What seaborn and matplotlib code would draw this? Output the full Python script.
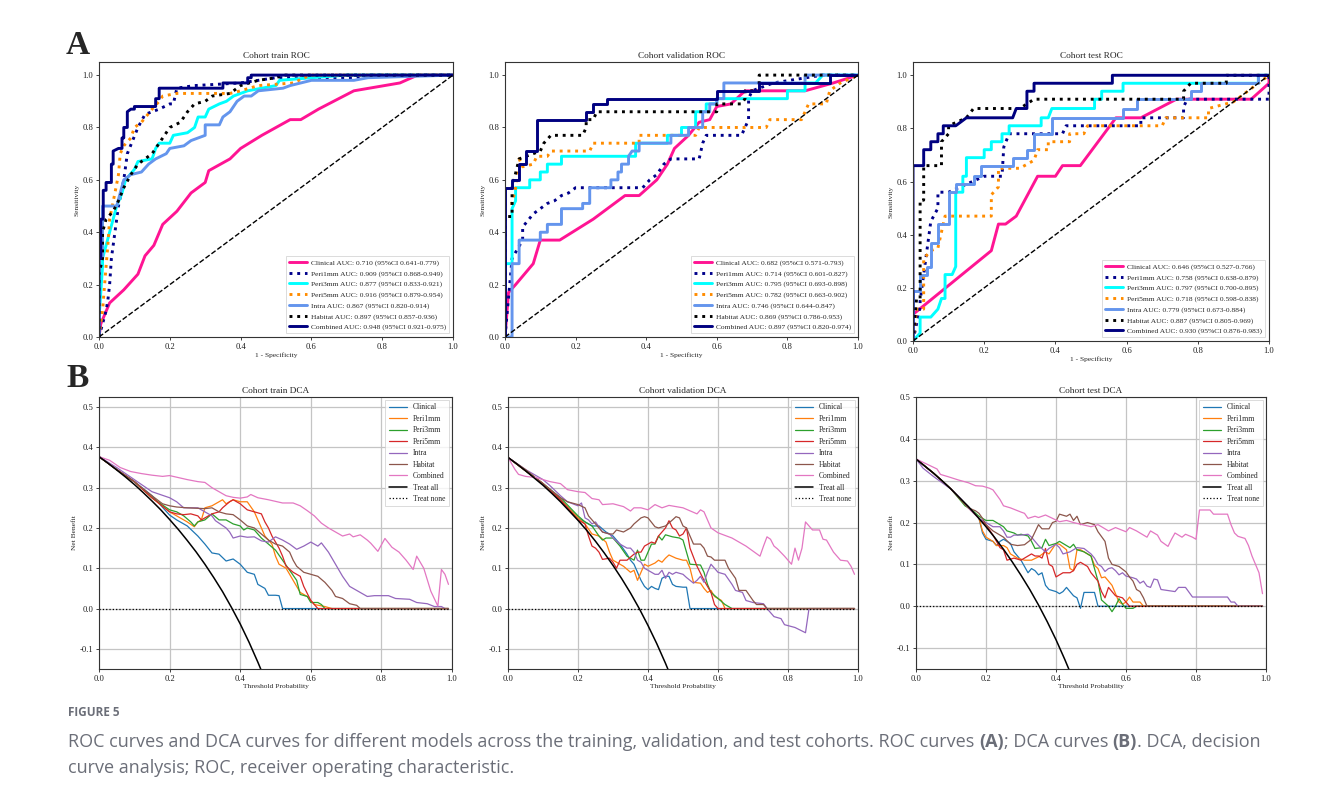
import numpy as np
import pandas as pd
import matplotlib
matplotlib.use("Agg")
import matplotlib.pyplot as plt
import seaborn as sns

# ---------------- DATA ----------------
models = ["Clinical", "Peri1mm", "Peri3mm", "Peri5mm", "Intra", "Habitat", "Combined"]
diag_x = [0, 1]
diag_y = [0, 1]

# ROC train
roc_train_clinical_fpr = [0,0.005,0.03,0.07,0.11,0.13,0.155,0.18,0.22,0.26,0.30,0.31,0.37,0.40,0.46,0.54,0.57,0.62,0.72,0.85,0.90,1.0]
roc_train_clinical_tpr = [0,0.05,0.13,0.18,0.24,0.31,0.35,0.43,0.48,0.55,0.59,0.635,0.68,0.72,0.77,0.83,0.83,0.87,0.94,0.97,1.0,1.0]
roc_train_peri1_fpr = [0,0.01,0.02,0.025,0.03,0.035,0.045,0.055,0.07,0.08,0.11,0.13,0.17,0.2,0.21,0.22,0.27,0.4,0.5,0.72,0.76,1.0]
roc_train_peri1_tpr = [0,0.05,0.1,0.14,0.2,0.3,0.4,0.5,0.6,0.7,0.8,0.85,0.87,0.89,0.89,0.95,0.96,0.97,0.99,0.99,1.0,1.0]
roc_train_peri3_fpr = [0,0,0.01,0.01,0.02,0.03,0.04,0.05,0.065,0.075,0.1,0.11,0.15,0.16,0.17,0.2,0.21,0.25,0.27,0.28,0.3,0.31,0.34,0.36,0.38,0.4,0.42,0.5,0.51,0.6,0.7,1.0]
roc_train_peri3_tpr = [0,0.07,0.27,0.3,0.35,0.4,0.45,0.5,0.55,0.6,0.64,0.67,0.68,0.72,0.74,0.74,0.77,0.78,0.8,0.84,0.84,0.87,0.89,0.9,0.92,0.93,0.94,0.96,0.98,0.99,1.0,1.0]
roc_train_peri5_fpr = [0,0.01,0.02,0.025,0.03,0.045,0.055,0.06,0.07,0.09,0.1,0.12,0.15,0.17,0.18,0.22,0.37,0.4,0.45,0.55,0.58,0.6,1.0]
roc_train_peri5_tpr = [0,0.1,0.27,0.35,0.45,0.55,0.62,0.7,0.73,0.76,0.8,0.82,0.87,0.9,0.92,0.93,0.93,0.94,0.96,0.97,0.99,1.0,1.0]
roc_train_intra_fpr = [0,0,0.01,0.01,0.05,0.06,0.07,0.09,0.12,0.14,0.16,0.19,0.2,0.24,0.26,0.3,0.3,0.34,0.35,0.37,0.39,0.41,0.43,0.45,0.52,0.54,0.6,0.72,0.76,1.0]
roc_train_intra_tpr = [0,0.3,0.3,0.5,0.5,0.55,0.6,0.62,0.63,0.66,0.68,0.7,0.72,0.73,0.75,0.77,0.81,0.81,0.84,0.86,0.9,0.92,0.92,0.94,0.95,0.96,0.98,0.98,0.99,1.0]
roc_train_habitat_fpr = [0,0,0.01,0.01,0.02,0.04,0.055,0.07,0.09,0.11,0.13,0.15,0.18,0.2,0.23,0.25,0.27,0.3,0.32,0.37,0.4,0.45,0.5,0.52,1.0]
roc_train_habitat_tpr = [0,0.24,0.3,0.4,0.45,0.48,0.52,0.57,0.62,0.66,0.68,0.7,0.76,0.8,0.82,0.86,0.89,0.9,0.92,0.93,0.96,0.98,0.99,1.0,1.0]
roc_train_combined_fpr = [0,0,0.005,0.005,0.012,0.012,0.02,0.02,0.035,0.035,0.04,0.04,0.055,0.065,0.065,0.07,0.07,0.08,0.08,0.09,0.1,0.1,0.16,0.16,0.17,0.17,0.35,0.35,0.42,0.42,0.43,0.43,1.0]
roc_train_combined_tpr = [0,0.30,0.30,0.45,0.45,0.56,0.56,0.59,0.59,0.66,0.66,0.71,0.72,0.72,0.76,0.76,0.80,0.80,0.86,0.87,0.87,0.88,0.88,0.91,0.91,0.95,0.95,0.97,0.97,0.99,0.99,1.0,1.0]

# ROC validation
roc_val_clinical_fpr = [0,0.01,0.03,0.08,0.1,0.155,0.25,0.34,0.38,0.43,0.46,0.48,0.52,0.55,0.58,0.6,0.64,0.68,0.85,0.93,1.0]
roc_val_clinical_tpr = [0,0.17,0.2,0.28,0.37,0.37,0.45,0.54,0.54,0.6,0.66,0.72,0.77,0.82,0.83,0.88,0.89,0.94,0.94,0.97,1.0]
roc_val_peri1_fpr = [0,0.02,0.05,0.05,0.08,0.1,0.12,0.14,0.16,0.18,0.2,0.39,0.41,0.43,0.45,0.47,0.55,0.56,0.57,0.67,0.68,0.69,0.69,0.7,0.76,0.9,1.0]
roc_val_peri1_tpr = [0,0.3,0.37,0.42,0.47,0.49,0.51,0.52,0.54,0.55,0.57,0.57,0.6,0.62,0.66,0.68,0.68,0.74,0.77,0.77,0.8,0.83,0.91,0.94,0.97,1.0,1.0]
roc_val_peri3_fpr = [0,0,0.02,0.02,0.03,0.03,0.07,0.07,0.1,0.1,0.12,0.12,0.16,0.16,0.37,0.37,0.46,0.46,0.5,0.5,0.54,0.54,0.57,0.57,0.6,0.6,0.8,0.8,0.85,0.85,0.88,0.9,1.0]
roc_val_peri3_tpr = [0,0.28,0.28,0.49,0.52,0.57,0.57,0.6,0.6,0.63,0.63,0.66,0.66,0.69,0.69,0.74,0.74,0.77,0.77,0.8,0.8,0.86,0.86,0.89,0.89,0.91,0.91,0.94,0.94,0.97,0.97,1.0,1.0]
roc_val_peri5_fpr = [0,0,0.02,0.03,0.04,0.05,0.08,0.09,0.12,0.13,0.24,0.25,0.38,0.38,0.54,0.55,0.74,0.75,0.84,0.85,0.86,0.91,0.92,0.95,1.0]
roc_val_peri5_tpr = [0,0.51,0.51,0.57,0.68,0.65,0.66,0.69,0.69,0.71,0.71,0.74,0.74,0.77,0.77,0.8,0.8,0.83,0.83,0.86,0.89,0.89,0.94,0.97,1.0]
roc_val_intra_fpr = [0,0.02,0.02,0.04,0.04,0.1,0.1,0.12,0.12,0.16,0.16,0.22,0.22,0.24,0.24,0.3,0.3,0.32,0.32,0.33,0.33,0.35,0.35,0.36,0.38,0.38,0.47,0.47,0.52,0.52,0.56,0.56,0.58,0.58,0.6,0.6,0.62,0.62,0.85,0.85,1.0]
roc_val_intra_tpr = [0,0,0.28,0.28,0.37,0.37,0.4,0.4,0.43,0.43,0.49,0.49,0.51,0.51,0.57,0.57,0.6,0.6,0.63,0.63,0.66,0.66,0.69,0.71,0.71,0.74,0.74,0.77,0.77,0.8,0.8,0.86,0.86,0.89,0.89,0.91,0.91,0.97,0.97,1.0,1.0]
roc_val_habitat_fpr = [0,0,0.02,0.02,0.04,0.06,0.1,0.11,0.13,0.22,0.23,0.23,0.25,0.26,0.6,0.6,0.67,0.68,0.68,0.72,0.72,1.0]
roc_val_habitat_tpr = [0,0.46,0.46,0.57,0.68,0.69,0.71,0.74,0.77,0.77,0.8,0.83,0.83,0.86,0.86,0.89,0.89,0.91,0.94,0.94,1.0,1.0]
roc_val_combined_fpr = [0,0,0.02,0.02,0.04,0.04,0.06,0.06,0.09,0.09,0.23,0.23,0.25,0.25,0.29,0.29,0.6,0.6,0.72,0.72,0.92,0.92,1.0]
roc_val_combined_tpr = [0,0.57,0.57,0.6,0.6,0.66,0.66,0.71,0.71,0.83,0.83,0.86,0.86,0.89,0.89,0.91,0.91,0.94,0.94,0.97,0.97,1.0,1.0]

# ROC test
roc_test_clinical_fpr = [0,0,0.22,0.24,0.26,0.29,0.35,0.4,0.42,0.47,0.57,0.64,0.74,0.95,1.0,1.0]
roc_test_clinical_tpr = [0,0.1,0.34,0.44,0.44,0.47,0.62,0.62,0.66,0.66,0.84,0.84,0.91,0.91,0.97,1.0]
roc_test_peri1_fpr = [0,0.02,0.02,0.05,0.07,0.07,0.1,0.2,0.25,0.255,0.27,0.42,0.43,0.64,0.64,0.76,0.76,0.77,1.0,1.0]
roc_test_peri1_tpr = [0,0.13,0.15,0.45,0.5,0.56,0.56,0.62,0.62,0.73,0.78,0.78,0.81,0.81,0.84,0.84,0.88,0.91,0.91,1.0]
roc_test_peri3_fpr = [0,0.02,0.02,0.05,0.07,0.08,0.09,0.09,0.11,0.12,0.12,0.14,0.14,0.15,0.15,0.2,0.2,0.22,0.22,0.25,0.25,0.27,0.27,0.36,0.36,0.38,0.39,0.51,0.51,0.53,0.53,0.59,0.59,0.97,0.97,1.0]
roc_test_peri3_tpr = [0,0.03,0.09,0.09,0.12,0.16,0.16,0.25,0.25,0.28,0.56,0.56,0.62,0.62,0.69,0.69,0.72,0.72,0.75,0.75,0.78,0.78,0.81,0.81,0.84,0.84,0.875,0.875,0.91,0.91,0.94,0.94,0.97,0.97,1.0,1.0]
roc_test_peri5_fpr = [0,0.01,0.03,0.03,0.05,0.07,0.08,0.09,0.22,0.22,0.24,0.24,0.3,0.34,0.35,0.38,0.38,0.44,0.44,0.48,0.49,0.7,0.71,0.83,0.83,0.9,0.97,1.0]
roc_test_peri5_tpr = [0,0.12,0.12,0.31,0.34,0.35,0.41,0.47,0.47,0.55,0.58,0.65,0.65,0.68,0.72,0.72,0.75,0.75,0.78,0.78,0.81,0.81,0.84,0.84,0.875,0.9,0.97,1.0]
roc_test_intra_fpr = [0,0,0.02,0.02,0.04,0.04,0.05,0.05,0.07,0.07,0.1,0.1,0.12,0.12,0.17,0.17,0.19,0.19,0.28,0.28,0.32,0.32,0.34,0.34,0.39,0.39,0.59,0.59,0.63,0.63,0.78,0.78,0.81,0.81,0.97,0.97,1.0]
roc_test_intra_tpr = [0,0.19,0.19,0.25,0.25,0.28,0.28,0.37,0.37,0.44,0.44,0.56,0.56,0.59,0.59,0.62,0.62,0.66,0.66,0.69,0.69,0.72,0.72,0.78,0.78,0.84,0.84,0.875,0.875,0.91,0.91,0.94,0.94,0.97,0.97,1.0,1.0]
roc_test_habitat_fpr = [0,0.01,0.02,0.02,0.03,0.03,0.08,0.08,0.1,0.1,0.15,0.17,0.3,0.34,0.76,0.76,0.78,0.88,0.88,1.0]
roc_test_habitat_tpr = [0,0.16,0.16,0.53,0.53,0.66,0.66,0.75,0.78,0.81,0.84,0.875,0.875,0.91,0.91,0.94,0.97,0.97,1.0,1.0]
roc_test_combined_fpr = [0,0,0.03,0.03,0.05,0.05,0.07,0.07,0.085,0.085,0.12,0.15,0.28,0.29,0.32,0.32,0.34,0.34,0.56,0.56,1.0]
roc_test_combined_tpr = [0,0.66,0.66,0.72,0.72,0.75,0.75,0.78,0.78,0.81,0.81,0.84,0.84,0.875,0.875,0.94,0.94,0.97,0.97,1.0,1.0]

# AUC values for legends
train_auc = [0.710, 0.909, 0.877, 0.916, 0.867, 0.897, 0.948]
train_ci_lo = [0.641, 0.868, 0.833, 0.879, 0.820, 0.857, 0.921]
train_ci_hi = [0.779, 0.949, 0.921, 0.954, 0.914, 0.936, 0.975]
val_auc = [0.682, 0.714, 0.795, 0.782, 0.746, 0.869, 0.897]
val_ci_lo = [0.571, 0.601, 0.693, 0.663, 0.644, 0.786, 0.820]
val_ci_hi = [0.793, 0.827, 0.898, 0.902, 0.847, 0.953, 0.974]
test_auc = [0.646, 0.758, 0.797, 0.718, 0.779, 0.887, 0.930]
test_ci_lo = [0.527, 0.638, 0.700, 0.598, 0.673, 0.805, 0.876]
test_ci_hi = [0.766, 0.879, 0.895, 0.838, 0.884, 0.969, 0.983]

# DCA train
dca_train_clinical_t = [0,0.05,0.1,0.15,0.2,0.22,0.25,0.28,0.3,0.32,0.34,0.36,0.38,0.4,0.42,0.44,0.45,0.47,0.48,0.5,0.51,0.52,0.99]
dca_train_clinical_nb = [0.377,0.345,0.315,0.28,0.232,0.22,0.205,0.18,0.16,0.138,0.135,0.118,0.123,0.11,0.09,0.085,0.06,0.05,0.033,0.033,0.032,0.0,0.0]
dca_train_peri1_t = [0,0.05,0.1,0.15,0.2,0.25,0.27,0.28,0.29,0.3,0.32,0.35,0.36,0.38,0.4,0.42,0.44,0.45,0.47,0.49,0.5,0.51,0.53,0.55,0.57,0.59,0.61,0.64,0.66,0.99]
dca_train_peri1_nb = [0.377,0.345,0.315,0.275,0.24,0.215,0.203,0.215,0.22,0.25,0.255,0.27,0.26,0.27,0.265,0.265,0.24,0.22,0.18,0.16,0.13,0.11,0.1,0.07,0.04,0.03,0.01,0.005,0.0,0.0]
dca_train_peri3_t = [0,0.05,0.1,0.15,0.2,0.22,0.24,0.26,0.27,0.28,0.3,0.32,0.34,0.36,0.38,0.4,0.41,0.42,0.44,0.46,0.48,0.5,0.52,0.54,0.56,0.57,0.59,0.6,0.62,0.63,0.64,0.99]
dca_train_peri3_nb = [0.377,0.345,0.315,0.275,0.245,0.24,0.23,0.215,0.205,0.215,0.22,0.235,0.22,0.22,0.21,0.205,0.195,0.2,0.195,0.175,0.16,0.145,0.12,0.095,0.07,0.035,0.03,0.015,0.015,0.01,0.0,0.0]
dca_train_peri5_t = [0,0.05,0.1,0.15,0.2,0.22,0.24,0.26,0.28,0.29,0.3,0.32,0.34,0.35,0.37,0.38,0.4,0.42,0.44,0.46,0.47,0.48,0.49,0.5,0.51,0.52,0.53,0.55,0.57,0.58,0.6,0.62,0.99]
dca_train_peri5_nb = [0.377,0.345,0.315,0.275,0.24,0.235,0.233,0.235,0.23,0.22,0.225,0.235,0.24,0.25,0.265,0.27,0.26,0.245,0.24,0.235,0.215,0.2,0.18,0.165,0.15,0.13,0.105,0.09,0.08,0.055,0.02,0.0,0.0]
dca_train_intra_t = [0,0.05,0.1,0.15,0.2,0.22,0.24,0.28,0.3,0.32,0.33,0.36,0.37,0.38,0.4,0.42,0.44,0.46,0.48,0.5,0.52,0.54,0.56,0.58,0.6,0.62,0.63,0.65,0.67,0.69,0.71,0.73,0.74,0.76,0.78,0.82,0.84,0.88,0.9,0.93,0.95,0.97,0.98,0.99]
dca_train_intra_nb = [0.377,0.35,0.32,0.29,0.275,0.265,0.25,0.25,0.24,0.23,0.218,0.2,0.19,0.175,0.18,0.177,0.178,0.168,0.165,0.178,0.17,0.16,0.147,0.155,0.165,0.155,0.163,0.14,0.11,0.08,0.055,0.045,0.04,0.03,0.032,0.032,0.025,0.023,0.015,0.012,0.005,0.005,0.0,0.0]
dca_train_habitat_t = [0,0.05,0.1,0.15,0.18,0.2,0.22,0.25,0.3,0.32,0.34,0.36,0.38,0.4,0.42,0.44,0.46,0.48,0.5,0.52,0.54,0.55,0.56,0.58,0.6,0.62,0.64,0.66,0.67,0.69,0.71,0.73,0.74,0.99]
dca_train_habitat_nb = [0.377,0.345,0.315,0.28,0.26,0.255,0.252,0.25,0.248,0.25,0.24,0.235,0.233,0.22,0.205,0.2,0.185,0.17,0.16,0.155,0.14,0.12,0.105,0.09,0.085,0.08,0.065,0.045,0.03,0.025,0.012,0.008,0.0,0.0]
dca_train_combined_t = [0,0.03,0.06,0.09,0.12,0.15,0.18,0.2,0.22,0.25,0.28,0.3,0.32,0.34,0.36,0.38,0.4,0.42,0.43,0.45,0.48,0.5,0.52,0.55,0.57,0.59,0.61,0.63,0.65,0.67,0.69,0.71,0.72,0.74,0.76,0.77,0.79,0.81,0.83,0.85,0.87,0.89,0.9,0.92,0.94,0.96,0.97,0.98,0.99]
dca_train_combined_nb = [0.377,0.368,0.35,0.34,0.335,0.331,0.328,0.33,0.326,0.32,0.315,0.313,0.3,0.29,0.28,0.276,0.274,0.277,0.283,0.275,0.27,0.266,0.262,0.262,0.255,0.243,0.23,0.212,0.2,0.19,0.18,0.185,0.178,0.183,0.17,0.162,0.142,0.174,0.152,0.14,0.12,0.097,0.13,0.1,0.043,0.006,0.097,0.085,0.06]
dca_train_all_t = [0,0.025,0.05,0.075,0.1,0.125,0.15,0.175,0.2,0.225,0.25,0.275,0.3,0.325,0.35,0.375,0.4,0.425,0.45,0.46]
dca_train_all_nb = [0.377,0.361,0.344,0.3265,0.308,0.288,0.267,0.245,0.221,0.196,0.169,0.1407,0.110,0.077,0.042,0.0032,-0.038,-0.0835,-0.133,-0.154]

# DCA validation
dca_val_clinical_t = [0,0.05,0.1,0.15,0.2,0.22,0.24,0.26,0.28,0.3,0.32,0.34,0.35,0.36,0.37,0.38,0.39,0.4,0.41,0.42,0.43,0.44,0.45,0.46,0.47,0.48,0.5,0.51,0.52,0.99]
dca_val_clinical_nb = [0.375,0.342,0.31,0.27,0.225,0.215,0.205,0.205,0.19,0.18,0.16,0.135,0.12,0.11,0.09,0.07,0.055,0.047,0.055,0.05,0.047,0.075,0.08,0.08,0.06,0.055,0.053,0.053,0.0,0.0]
dca_val_peri1_t = [0,0.05,0.1,0.15,0.2,0.22,0.24,0.26,0.28,0.29,0.3,0.31,0.33,0.35,0.36,0.37,0.38,0.39,0.4,0.42,0.43,0.44,0.45,0.46,0.48,0.5,0.51,0.52,0.53,0.55,0.56,0.57,0.58,0.59,0.6,0.61,0.62,0.99]
dca_val_peri1_nb = [0.375,0.342,0.31,0.27,0.225,0.21,0.185,0.18,0.165,0.14,0.12,0.115,0.105,0.09,0.095,0.07,0.09,0.11,0.105,0.113,0.12,0.115,0.125,0.133,0.125,0.12,0.12,0.1,0.065,0.063,0.05,0.04,0.045,0.03,0.025,0.02,0.0,0.0]
dca_val_peri3_t = [0,0.05,0.1,0.15,0.2,0.22,0.24,0.26,0.27,0.28,0.3,0.32,0.34,0.36,0.37,0.38,0.39,0.4,0.41,0.42,0.43,0.44,0.45,0.47,0.49,0.5,0.51,0.52,0.55,0.56,0.57,0.58,0.6,0.62,0.64,0.99]
dca_val_peri3_nb = [0.375,0.342,0.31,0.275,0.23,0.215,0.205,0.18,0.17,0.175,0.175,0.155,0.13,0.12,0.145,0.12,0.12,0.14,0.16,0.16,0.18,0.17,0.183,0.178,0.175,0.17,0.14,0.11,0.108,0.09,0.06,0.04,0.025,0.01,0.0,0.0]
dca_val_peri5_t = [0,0.05,0.1,0.15,0.2,0.22,0.23,0.24,0.25,0.26,0.27,0.29,0.3,0.31,0.32,0.34,0.36,0.37,0.38,0.39,0.4,0.41,0.42,0.43,0.45,0.46,0.47,0.48,0.49,0.5,0.51,0.52,0.54,0.56,0.58,0.59,0.6,0.99]
dca_val_peri5_nb = [0.375,0.342,0.31,0.27,0.22,0.21,0.18,0.155,0.15,0.14,0.122,0.125,0.115,0.1,0.12,0.12,0.135,0.14,0.14,0.155,0.16,0.165,0.162,0.18,0.2,0.218,0.2,0.195,0.18,0.185,0.2,0.15,0.105,0.07,0.04,0.01,0.0,0.0]
dca_val_intra_t = [0,0.05,0.1,0.12,0.15,0.17,0.2,0.21,0.22,0.23,0.24,0.25,0.27,0.29,0.3,0.32,0.34,0.35,0.36,0.37,0.38,0.39,0.4,0.42,0.43,0.44,0.45,0.46,0.47,0.48,0.5,0.51,0.53,0.54,0.55,0.56,0.57,0.58,0.6,0.62,0.64,0.65,0.67,0.68,0.7,0.73,0.74,0.76,0.78,0.79,0.82,0.85,0.86,0.99]
dca_val_intra_nb = [0.375,0.345,0.32,0.305,0.28,0.265,0.255,0.262,0.225,0.22,0.21,0.215,0.19,0.185,0.175,0.16,0.15,0.15,0.14,0.12,0.115,0.1,0.095,0.085,0.085,0.095,0.075,0.09,0.085,0.09,0.085,0.077,0.063,0.07,0.08,0.065,0.09,0.11,0.09,0.085,0.06,0.045,0.04,0.02,0.015,0.012,0.0,-0.02,-0.025,-0.04,-0.047,-0.06,0.0,0.0]
dca_val_habitat_t = [0,0.05,0.1,0.15,0.17,0.2,0.22,0.23,0.25,0.27,0.29,0.3,0.31,0.33,0.35,0.36,0.38,0.39,0.4,0.42,0.43,0.45,0.47,0.48,0.49,0.5,0.51,0.52,0.53,0.55,0.56,0.57,0.58,0.59,0.62,0.63,0.65,0.66,0.68,0.7,0.71,0.73,0.74,0.99]
dca_val_habitat_nb = [0.375,0.345,0.31,0.275,0.265,0.258,0.25,0.23,0.21,0.19,0.185,0.185,0.195,0.19,0.2,0.21,0.225,0.228,0.225,0.203,0.2,0.205,0.22,0.228,0.225,0.205,0.2,0.18,0.16,0.16,0.15,0.13,0.128,0.12,0.12,0.1,0.075,0.045,0.045,0.02,0.01,0.01,0.0,0.0]
dca_val_combined_t = [0,0.02,0.03,0.05,0.08,0.1,0.12,0.15,0.17,0.2,0.22,0.24,0.26,0.27,0.3,0.33,0.35,0.36,0.38,0.4,0.42,0.44,0.46,0.5,0.54,0.55,0.56,0.58,0.6,0.64,0.68,0.72,0.73,0.74,0.75,0.76,0.77,0.79,0.81,0.82,0.83,0.84,0.85,0.87,0.89,0.9,0.91,0.93,0.95,0.97,0.98,0.99]
dca_val_combined_nb = [0.375,0.345,0.333,0.328,0.325,0.32,0.315,0.31,0.295,0.29,0.288,0.273,0.27,0.258,0.26,0.253,0.242,0.25,0.25,0.245,0.258,0.25,0.256,0.25,0.235,0.245,0.24,0.2,0.188,0.175,0.155,0.13,0.155,0.178,0.172,0.155,0.148,0.13,0.11,0.15,0.12,0.15,0.215,0.195,0.195,0.172,0.17,0.14,0.12,0.118,0.105,0.085]
dca_val_all_t = [0,0.025,0.05,0.075,0.1,0.125,0.15,0.175,0.2,0.225,0.25,0.275,0.3,0.325,0.35,0.375,0.4,0.425,0.45,0.46]
dca_val_all_nb = [0.375,0.359,0.342,0.324,0.306,0.286,0.265,0.242,0.219,0.194,0.167,0.138,0.107,0.074,0.0385,0.0,-0.042,-0.087,-0.136,-0.157]

# DCA test
dca_test_clinical_t = [0,0.05,0.1,0.15,0.18,0.19,0.2,0.22,0.23,0.24,0.25,0.27,0.28,0.3,0.32,0.33,0.34,0.35,0.36,0.37,0.38,0.4,0.41,0.42,0.43,0.45,0.46,0.47,0.48,0.51,0.52,0.99]
dca_test_clinical_nb = [0.352,0.318,0.28,0.235,0.21,0.175,0.16,0.155,0.145,0.155,0.16,0.15,0.13,0.11,0.08,0.09,0.085,0.075,0.08,0.05,0.04,0.035,0.03,0.035,0.045,0.025,0.02,-0.005,0.033,0.033,0.0,0.0]
dca_test_peri1_t = [0,0.05,0.1,0.15,0.18,0.19,0.2,0.22,0.23,0.25,0.26,0.27,0.29,0.31,0.33,0.35,0.37,0.38,0.4,0.41,0.43,0.44,0.45,0.46,0.47,0.48,0.5,0.51,0.52,0.53,0.54,0.55,0.56,0.57,0.58,0.59,0.6,0.61,0.62,0.64,0.65,0.99]
dca_test_peri1_nb = [0.352,0.318,0.28,0.235,0.21,0.18,0.165,0.155,0.145,0.145,0.14,0.125,0.115,0.11,0.11,0.118,0.13,0.125,0.15,0.148,0.135,0.09,0.085,0.135,0.135,0.13,0.12,0.098,0.09,0.068,0.07,0.06,0.05,0.03,0.01,0.005,0.01,0.022,0.01,0.01,0.0,0.0]
dca_test_peri3_t = [0,0.05,0.1,0.14,0.16,0.18,0.2,0.22,0.24,0.25,0.26,0.28,0.29,0.3,0.32,0.33,0.34,0.36,0.37,0.38,0.4,0.41,0.42,0.44,0.45,0.46,0.48,0.5,0.51,0.52,0.53,0.55,0.56,0.57,0.58,0.59,0.6,0.62,0.63,0.99]
dca_test_peri3_nb = [0.352,0.318,0.28,0.24,0.23,0.215,0.205,0.205,0.195,0.19,0.18,0.175,0.17,0.172,0.168,0.155,0.138,0.14,0.16,0.145,0.15,0.155,0.15,0.14,0.148,0.135,0.13,0.12,0.09,0.06,0.015,0.0,-0.013,0.0,0.018,0.005,-0.005,-0.005,0.0,0.0]
dca_test_peri5_t = [0,0.05,0.1,0.15,0.18,0.2,0.22,0.24,0.25,0.26,0.28,0.3,0.32,0.33,0.34,0.35,0.36,0.37,0.38,0.39,0.4,0.42,0.44,0.45,0.46,0.47,0.49,0.5,0.52,0.53,0.54,0.55,0.57,0.59,0.6,0.61,0.99]
dca_test_peri5_nb = [0.352,0.318,0.28,0.235,0.21,0.195,0.17,0.14,0.135,0.11,0.115,0.11,0.12,0.125,0.12,0.12,0.115,0.138,0.1,0.095,0.07,0.08,0.08,0.085,0.1,0.105,0.095,0.08,0.06,0.035,0.02,0.045,0.025,0.02,0.01,0.0,0.0]
dca_test_intra_t = [0,0.02,0.05,0.1,0.13,0.15,0.18,0.2,0.22,0.24,0.25,0.26,0.27,0.28,0.3,0.32,0.33,0.35,0.37,0.38,0.4,0.41,0.42,0.44,0.46,0.48,0.5,0.51,0.52,0.53,0.54,0.55,0.56,0.57,0.58,0.59,0.6,0.62,0.63,0.64,0.65,0.66,0.67,0.68,0.69,0.7,0.74,0.75,0.77,0.79,0.89,0.9,0.91,0.92,0.99]
dca_test_intra_nb = [0.352,0.33,0.31,0.28,0.255,0.235,0.21,0.2,0.19,0.19,0.18,0.165,0.165,0.17,0.17,0.172,0.165,0.145,0.13,0.138,0.148,0.14,0.125,0.13,0.14,0.138,0.125,0.115,0.1,0.095,0.083,0.09,0.092,0.085,0.075,0.08,0.072,0.068,0.065,0.055,0.06,0.048,0.045,0.065,0.063,0.04,0.035,0.045,0.045,0.022,0.022,0.01,0.01,0.0,0.0]
dca_test_habitat_t = [0,0.05,0.1,0.15,0.17,0.18,0.19,0.2,0.22,0.24,0.25,0.27,0.29,0.31,0.33,0.35,0.36,0.38,0.39,0.4,0.41,0.43,0.44,0.45,0.46,0.47,0.49,0.51,0.52,0.54,0.55,0.56,0.58,0.6,0.61,0.62,0.63,0.64,0.65,0.66,0.99]
dca_test_habitat_nb = [0.352,0.318,0.28,0.235,0.228,0.222,0.21,0.195,0.18,0.17,0.165,0.148,0.145,0.147,0.16,0.195,0.185,0.185,0.2,0.203,0.22,0.215,0.22,0.205,0.215,0.195,0.2,0.195,0.178,0.155,0.115,0.1,0.095,0.082,0.07,0.06,0.04,0.035,0.02,0.0,0.0]
dca_test_combined_t = [0,0.03,0.06,0.07,0.09,0.12,0.15,0.17,0.19,0.21,0.22,0.24,0.25,0.27,0.3,0.31,0.32,0.34,0.35,0.37,0.39,0.41,0.43,0.45,0.47,0.49,0.5,0.52,0.55,0.57,0.6,0.61,0.63,0.65,0.66,0.67,0.69,0.7,0.72,0.73,0.74,0.76,0.77,0.79,0.8,0.81,0.84,0.85,0.88,0.89,0.9,0.91,0.92,0.94,0.95,0.96,0.97,0.98,0.99]
dca_test_combined_nb = [0.352,0.34,0.328,0.315,0.31,0.302,0.295,0.288,0.287,0.282,0.278,0.255,0.24,0.235,0.225,0.222,0.21,0.215,0.212,0.218,0.21,0.202,0.205,0.2,0.196,0.192,0.19,0.195,0.18,0.188,0.178,0.188,0.18,0.17,0.165,0.18,0.17,0.155,0.143,0.16,0.175,0.165,0.172,0.165,0.16,0.23,0.23,0.22,0.22,0.22,0.195,0.175,0.167,0.162,0.145,0.12,0.1,0.08,0.03]
dca_test_all_t = [0,0.025,0.05,0.075,0.1,0.125,0.15,0.175,0.2,0.225,0.25,0.275,0.3,0.325,0.35,0.375,0.4,0.425,0.44]
dca_test_all_nb = [0.352,0.335,0.318,0.2995,0.280,0.259,0.238,0.2145,0.190,0.164,0.136,0.106,0.074,0.040,0.003,-0.037,-0.080,-0.127,-0.157]

treat_none_t = [0, 0.99]
treat_none_nb = [0, 0]

# ---------------- STYLE ----------------
sns.set_theme(style="ticks")
plt.rcParams["font.family"] = ["Liberation Serif", "DejaVu Serif"]
plt.rcParams["axes.unicode_minus"] = False
plt.rcParams["axes.edgecolor"] = "#333333"
plt.rcParams["axes.linewidth"] = 0.8

roc_colors = ["#FF1493", "#00008B", "#00FFFF", "#FF8C00", "#6495ED", "#000000", "#000080"]
roc_styles = ["-", ":", "-", ":", "-", ":", "-"]
dca_colors = ["#1f77b4", "#ff7f0e", "#2ca02c", "#d62728", "#9467bd", "#8c564b", "#e377c2"]

W, H = 1333, 789
fig = plt.figure(figsize=(W / 100, H / 100), dpi=100)
fig.patch.set_facecolor("white")


def add_ax(l, t, r, b):
    return fig.add_axes([l / W, 1 - b / H, (r - l) / W, (b - t) / H])


def style_ticks(ax):
    ax.tick_params(axis="both", labelsize=6.2, length=2.5, width=0.6, pad=1.5,
                   colors="#222222", direction="out")


def roc_panel(ax, title, curves, aucs, los, his):
    for i, (fx, ty) in enumerate(curves):
        lab = f"{models[i]} AUC: {aucs[i]:.3f} (95%CI {los[i]:.3f}-{his[i]:.3f})"
        sns.lineplot(x=fx, y=ty, ax=ax, sort=False, estimator=None, color=roc_colors[i],
                     linestyle=roc_styles[i], linewidth=2.1, label=lab)
    sns.lineplot(x=diag_x, y=diag_y, ax=ax, sort=False, estimator=None, color="black",
                 linestyle="--", linewidth=1.0)
    ax.set_xlim(0, 1)
    ax.set_ylim(0, 1.05)
    ax.set_xticks([0, 0.2, 0.4, 0.6, 0.8, 1.0])
    ax.set_yticks([0, 0.2, 0.4, 0.6, 0.8, 1.0])
    ax.set_xticklabels(["0.0", "0.2", "0.4", "0.6", "0.8", "1.0"])
    ax.set_yticklabels(["0.0", "0.2", "0.4", "0.6", "0.8", "1.0"])
    ax.set_title(title, fontsize=6.7, pad=3)
    ax.set_xlabel("1 - Specificity", fontsize=5.4, labelpad=1)
    ax.set_ylabel("Sensitivity", fontsize=5.4, labelpad=2)
    style_ticks(ax)
    leg = ax.legend(loc="lower right", fontsize=5.4, frameon=True, fancybox=False,
                    handlelength=2.4, borderpad=0.4, labelspacing=0.55, handletextpad=0.6,
                    borderaxespad=0.5)
    leg.get_frame().set_edgecolor("#cccccc")
    leg.get_frame().set_linewidth(0.6)


def dca_panel(ax, title, curves, all_t, all_nb, ytop):
    for i, (t, nb) in enumerate(curves):
        sns.lineplot(x=t, y=nb, ax=ax, sort=False, estimator=None, color=dca_colors[i],
                     linewidth=0.9, label=models[i])
    sns.lineplot(x=all_t, y=all_nb, ax=ax, sort=False, estimator=None, color="black",
                 linewidth=1.1, label="Treat all")
    sns.lineplot(x=treat_none_t, y=treat_none_nb, ax=ax, sort=False, estimator=None,
                 color="black", linestyle=":", linewidth=0.9, label="Treat none")
    ax.set_xlim(0, 1)
    ax.set_ylim(-0.15, ytop)
    ax.set_xticks([0, 0.2, 0.4, 0.6, 0.8, 1.0])
    ax.set_xticklabels(["0.0", "0.2", "0.4", "0.6", "0.8", "1.0"])
    ax.set_yticks([-0.1, 0, 0.1, 0.2, 0.3, 0.4, 0.5])
    ax.set_yticklabels(["-0.1", "0.0", "0.1", "0.2", "0.3", "0.4", "0.5"])
    ax.grid(True, color="#c4c4c4", linewidth=0.9)
    ax.set_axisbelow(True)
    ax.set_title(title, fontsize=6.7, pad=3)
    ax.set_xlabel("Threshold Probability", fontsize=5.4, labelpad=1)
    ax.set_ylabel("Net Benefit", fontsize=5.4, labelpad=2)
    style_ticks(ax)
    leg = ax.legend(loc="upper right", fontsize=5.5, frameon=True, fancybox=False,
                    handlelength=2.4, borderpad=0.45, labelspacing=0.45, handletextpad=0.8,
                    borderaxespad=0.4)
    leg.get_frame().set_edgecolor("#cccccc")
    leg.get_frame().set_linewidth(0.6)


# ROC panels
ax1 = add_ax(99, 62, 453, 337)
roc_panel(ax1, "Cohort train ROC",
          [(roc_train_clinical_fpr, roc_train_clinical_tpr), (roc_train_peri1_fpr, roc_train_peri1_tpr),
           (roc_train_peri3_fpr, roc_train_peri3_tpr), (roc_train_peri5_fpr, roc_train_peri5_tpr),
           (roc_train_intra_fpr, roc_train_intra_tpr), (roc_train_habitat_fpr, roc_train_habitat_tpr),
           (roc_train_combined_fpr, roc_train_combined_tpr)],
          train_auc, train_ci_lo, train_ci_hi)
ax2 = add_ax(505, 62, 858, 337)
roc_panel(ax2, "Cohort validation ROC",
          [(roc_val_clinical_fpr, roc_val_clinical_tpr), (roc_val_peri1_fpr, roc_val_peri1_tpr),
           (roc_val_peri3_fpr, roc_val_peri3_tpr), (roc_val_peri5_fpr, roc_val_peri5_tpr),
           (roc_val_intra_fpr, roc_val_intra_tpr), (roc_val_habitat_fpr, roc_val_habitat_tpr),
           (roc_val_combined_fpr, roc_val_combined_tpr)],
          val_auc, val_ci_lo, val_ci_hi)
ax3 = add_ax(913, 62, 1269, 341)
roc_panel(ax3, "Cohort test ROC",
          [(roc_test_clinical_fpr, roc_test_clinical_tpr), (roc_test_peri1_fpr, roc_test_peri1_tpr),
           (roc_test_peri3_fpr, roc_test_peri3_tpr), (roc_test_peri5_fpr, roc_test_peri5_tpr),
           (roc_test_intra_fpr, roc_test_intra_tpr), (roc_test_habitat_fpr, roc_test_habitat_tpr),
           (roc_test_combined_fpr, roc_test_combined_tpr)],
          test_auc, test_ci_lo, test_ci_hi)

# DCA panels
ax4 = add_ax(99, 397, 452, 669)
dca_panel(ax4, "Cohort train DCA",
          [(dca_train_clinical_t, dca_train_clinical_nb), (dca_train_peri1_t, dca_train_peri1_nb),
           (dca_train_peri3_t, dca_train_peri3_nb), (dca_train_peri5_t, dca_train_peri5_nb),
           (dca_train_intra_t, dca_train_intra_nb), (dca_train_habitat_t, dca_train_habitat_nb),
           (dca_train_combined_t, dca_train_combined_nb)],
          dca_train_all_t, dca_train_all_nb, 0.525)
ax5 = add_ax(508, 397, 858, 669)
dca_panel(ax5, "Cohort validation DCA",
          [(dca_val_clinical_t, dca_val_clinical_nb), (dca_val_peri1_t, dca_val_peri1_nb),
           (dca_val_peri3_t, dca_val_peri3_nb), (dca_val_peri5_t, dca_val_peri5_nb),
           (dca_val_intra_t, dca_val_intra_nb), (dca_val_habitat_t, dca_val_habitat_nb),
           (dca_val_combined_t, dca_val_combined_nb)],
          dca_val_all_t, dca_val_all_nb, 0.525)
ax6 = add_ax(916, 397, 1266, 669)
dca_panel(ax6, "Cohort test DCA",
          [(dca_test_clinical_t, dca_test_clinical_nb), (dca_test_peri1_t, dca_test_peri1_nb),
           (dca_test_peri3_t, dca_test_peri3_nb), (dca_test_peri5_t, dca_test_peri5_nb),
           (dca_test_intra_t, dca_test_intra_nb), (dca_test_habitat_t, dca_test_habitat_nb),
           (dca_test_combined_t, dca_test_combined_nb)],
          dca_test_all_t, dca_test_all_nb, 0.5)

# Panel letters
fig.text(66 / W, 1 - 46 / H, "A", fontsize=24, fontweight="bold", va="center", ha="left",
         family=["Liberation Serif"])
fig.text(66 / W, 1 - 379 / H, "B", fontsize=24, fontweight="bold", va="center", ha="left",
         family=["Liberation Serif"])

# Caption
cap_color = "#6b6e78"
cap_font = ["Open Sans", "DejaVu Sans"]
fig.text(68 / W, 1 - 713 / H, "FIGURE 5", fontsize=8.5, fontweight="bold", color=cap_color,
         va="center", ha="left", family=cap_font)

renderer = fig.canvas.get_renderer()


def draw_line(x0, yc, segs, size):
    x = x0
    for txt, wt in segs:
        t = fig.text(x / W, 1 - yc / H, txt, fontsize=size, fontweight=wt, color=cap_color,
                     va="center", ha="left", family=cap_font)
        x += t.get_window_extent(renderer).width
    return x


line1 = [("ROC curves and DCA curves for different models across the training, validation, and test cohorts. ROC curves ", "normal"),
         ("(A)", "bold"), ("; DCA curves ", "normal"), ("(B)", "bold"), (". DCA, decision", "normal")]
line2 = [("curve analysis; ROC, receiver operating characteristic.", "normal")]

# measure width to fit reference span (68 -> 1262 px)
tmp = []
xx = 0
for txt, wt in line1:
    t = fig.text(0, 0, txt, fontsize=12, fontweight=wt, family=cap_font)
    xx += t.get_window_extent(renderer).width
    tmp.append(t)
for t in tmp:
    t.remove()
cap_size = 12 * (1254 - 68) / xx
draw_line(68, 742, line1, cap_size)
draw_line(68, 768, line2, cap_size)

fig.savefig("out.png", dpi=100, facecolor="white")
